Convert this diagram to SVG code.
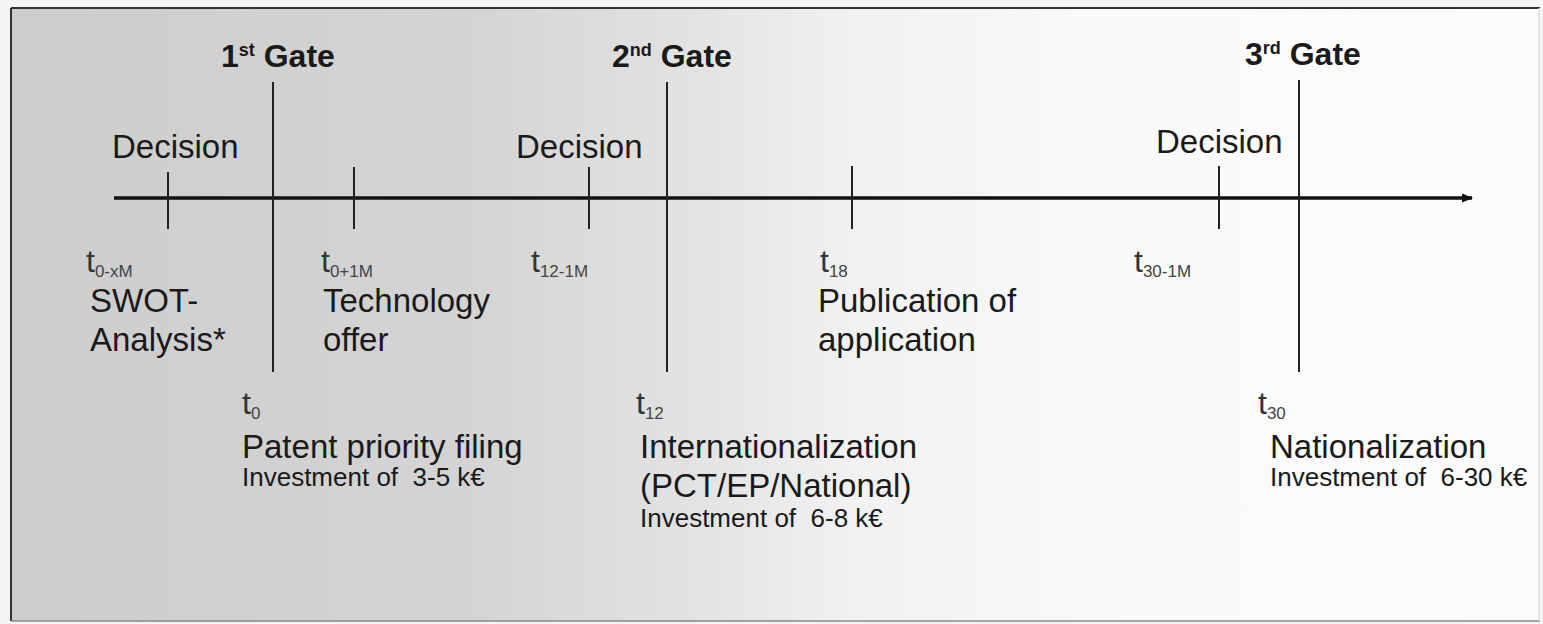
<svg xmlns="http://www.w3.org/2000/svg" width="1543" height="624" viewBox="0 0 1543 624">
<defs>
<linearGradient id="bg" x1="0" y1="0" x2="1" y2="0">
<stop offset="0" stop-color="#cdcdcd"/>
<stop offset="0.3" stop-color="#d4d4d4"/>
<stop offset="0.45" stop-color="#e3e3e3"/>
<stop offset="0.55" stop-color="#f1f1f1"/>
<stop offset="0.7" stop-color="#f9f9f9"/>
<stop offset="1" stop-color="#fcfcfc"/>
</linearGradient>
<marker id="arrow" viewBox="0 0 10 10" refX="9" refY="5" markerWidth="3.2" markerHeight="3.2" orient="auto" markerUnits="strokeWidth">
<path d="M0,1 L10,5 L0,9 z" fill="#111"/>
</marker>
<style>
text{font-family:"Liberation Sans",Arial,sans-serif;fill:#1a1a1a;white-space:pre}
.gate{font-size:32px;font-weight:bold}
.sup{font-size:18px}
.main{font-size:33px}
.inv{font-size:26px}
.t{font-size:32px;fill:#333}
.sub{font-size:17px;fill:#444}
.axis{stroke:#111;stroke-width:3.5;fill:none}
.tick{stroke:#222;stroke-width:2;fill:none}
</style>
</defs>
<rect x="0" y="0" width="1543" height="624" fill="#f4f4f4"/>
<rect x="11" y="8" width="1528" height="613" fill="url(#bg)"/>
<line x1="11" y1="8" x2="1540" y2="8" stroke="#333" stroke-width="2"/>
<line x1="11" y1="8" x2="11" y2="621" stroke="#333" stroke-width="2"/>
<line x1="11" y1="621" x2="1540" y2="621" stroke="#888" stroke-width="1.5"/>
<line x1="1539" y1="8" x2="1539" y2="621" stroke="#ddd" stroke-width="1.5"/>

<g id="connectors">
<line class="axis" x1="114" y1="198" x2="1472" y2="198" marker-end="url(#arrow)"/>
<line class="tick" x1="168" y1="172" x2="168" y2="229"/>
<line class="tick" x1="273" y1="82" x2="273" y2="372"/>
<line class="tick" x1="354" y1="167" x2="354" y2="229"/>
<line class="tick" x1="589" y1="167" x2="589" y2="229"/>
<line class="tick" x1="667" y1="82" x2="667" y2="372"/>
<line class="tick" x1="852" y1="166" x2="852" y2="229"/>
<line class="tick" x1="1219" y1="166" x2="1219" y2="229"/>
<line class="tick" x1="1299" y1="80" x2="1299" y2="372"/>
</g>

<g id="gate1">
<text class="gate" x="221" y="67">1<tspan class="sup" dy="-11">st</tspan><tspan dy="11"> Gate</tspan></text>
</g>
<g id="gate2">
<text class="gate" x="612" y="67">2<tspan class="sup" dy="-11">nd</tspan><tspan dy="11"> Gate</tspan></text>
</g>
<g id="gate3">
<text class="gate" x="1245" y="65">3<tspan class="sup" dy="-11">rd</tspan><tspan dy="11"> Gate</tspan></text>
</g>

<g id="decision1">
<text class="main" x="112" y="158">Decision</text>
</g>
<g id="decision2">
<text class="main" x="516" y="158">Decision</text>
</g>
<g id="decision3">
<text class="main" x="1156" y="153">Decision</text>
</g>

<g id="swot">
<text class="t" x="86" y="272">t<tspan class="sub" dy="5">0-xM</tspan></text>
<text class="main" x="90" y="312">SWOT-</text>
<text class="main" x="90" y="351">Analysis*</text>
</g>
<g id="technology-offer">
<text class="t" x="321" y="272">t<tspan class="sub" dy="5">0+1M</tspan></text>
<text class="main" x="323" y="312">Technology</text>
<text class="main" x="323" y="351">offer</text>
</g>
<g id="t12-1m">
<text class="t" x="531" y="272">t<tspan class="sub" dy="5">12-1M</tspan></text>
</g>
<g id="publication">
<text class="t" x="820" y="272">t<tspan class="sub" dy="5">18</tspan></text>
<text class="main" x="818" y="312">Publication of</text>
<text class="main" x="818" y="351">application</text>
</g>
<g id="t30-1m">
<text class="t" x="1134" y="272">t<tspan class="sub" dy="5">30-1M</tspan></text>
</g>

<g id="priority-filing">
<text class="t" x="242" y="414">t<tspan class="sub" dy="5">0</tspan></text>
<text class="main" x="242" y="458">Patent priority filing</text>
<text class="inv" x="242" y="486">Investment of  3-5 k€</text>
</g>
<g id="internationalization">
<text class="t" x="636" y="414">t<tspan class="sub" dy="5">12</tspan></text>
<text class="main" x="640" y="458">Internationalization</text>
<text class="main" x="640" y="497">(PCT/EP/National)</text>
<text class="inv" x="640" y="527">Investment of  6-8 k€</text>
</g>
<g id="nationalization">
<text class="t" x="1258" y="414">t<tspan class="sub" dy="5">30</tspan></text>
<text class="main" x="1270" y="458">Nationalization</text>
<text class="inv" x="1270" y="486">Investment of  6-30 k€</text>
</g>
</svg>
